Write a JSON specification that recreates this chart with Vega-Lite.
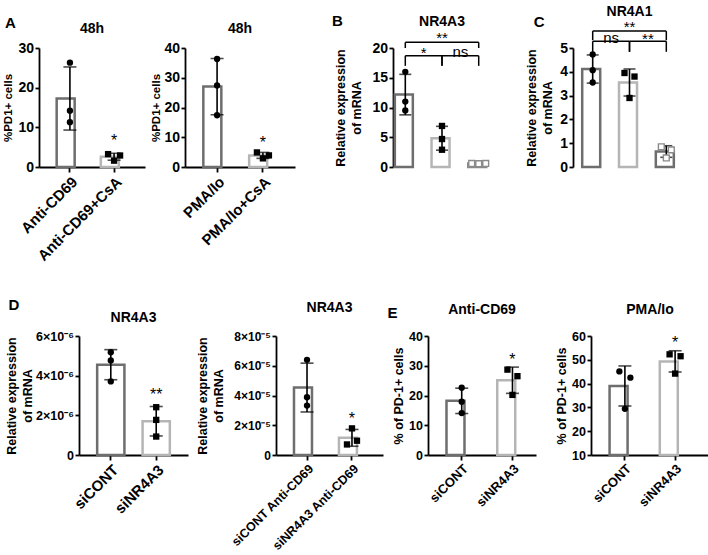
{
"$schema": "https://vega.github.io/schema/vega-lite/v6.json",
"background": "white",
"padding": {"left": 2, "top": 5, "right": 0, "bottom": 0},
"bounds": "flush",
"spacing": 288,
"resolve": {"scale": {"stroke": "independent", "shape": "independent", "xOffset": "independent"}},
"vconcat": [
 {"bounds": "flush", "spacing": 354,
  "resolve": {"scale": {"stroke": "independent", "shape": "independent", "xOffset": "independent"}},
  "hconcat": [
  {"title": {"text": "A", "anchor": "start", "frame": "bounds", "fontSize": 15, "baseline": "alphabetic", "offset": 0, "dx": 2, "dy": 21},
   "bounds": "flush", "spacing": 40,
   "resolve": {"scale": {"stroke": "independent", "shape": "independent", "xOffset": "independent"}},
   "hconcat": [
    {"width": 106, "height": 119, "title": {"text": "48h", "offset": 5},
     "data": {"values": [
      {"group": "Anti-CD69", "rep": 1, "value": 26.3}, {"group": "Anti-CD69", "rep": 2, "value": 14.2}, {"group": "Anti-CD69", "rep": 3, "value": 11.3},
      {"group": "Anti-CD69+CsA", "rep": 1, "value": 3.25}, {"group": "Anti-CD69+CsA", "rep": 2, "value": 2.9}, {"group": "Anti-CD69+CsA", "rep": 3, "value": 1.6}]},
     "encoding": {
      "x": {"field": "group", "type": "nominal", "title": null, "scale": {"domain": ["Anti-CD69", "Anti-CD69+CsA"], "paddingInner": 0.4, "paddingOuter": 0.4}},
      "y": {"field": "value", "type": "quantitative", "title": "%PD1+ cells", "scale": {"domain": [0, 30], "nice": false}, "axis": {"values": [0, 10, 20, 30], "titleFontSize": 11.5, "titlePadding": 4}}},
     "layer": [
      {"transform": [{"aggregate": [{"op": "mean", "field": "value", "as": "value"}], "groupby": ["group"]}],
       "mark": {"type": "bar", "fill": "white", "strokeWidth": 2.5},
       "encoding": {"stroke": {"field": "group", "type": "nominal", "scale": {"domain": ["Anti-CD69", "Anti-CD69+CsA"], "range": ["#6e6e6e", "#b5b5b5"]}, "legend": null}}},
      {"mark": {"type": "errorbar", "extent": "stdev", "ticks": true, "size": 13, "thickness": 1.6, "color": "black"}, "encoding": {}},
      {"transform": [{"filter": {"field": "group", "oneOf": ["Anti-CD69"]}}],
       "mark": {"type": "point", "filled": true, "color": "black", "size": 40, "opacity": 1},
       "encoding": {"shape": {"field": "group", "type": "nominal", "scale": {"domain": ["Anti-CD69", "Anti-CD69+CsA"], "range": ["circle", "square"]}, "legend": null}}},
      {"transform": [{"filter": {"field": "group", "oneOf": ["Anti-CD69+CsA"]}}],
       "mark": {"type": "point", "filled": true, "color": "black", "size": 40, "opacity": 1},
       "encoding": {"shape": {"field": "group", "type": "nominal", "scale": {"domain": ["Anti-CD69", "Anti-CD69+CsA"], "range": ["circle", "square"]}, "legend": null},
        "xOffset": {"field": "rep", "type": "nominal", "scale": {"type": "point", "domain": [1, 3, 2], "range": [7.25, 19.25], "padding": 0}}}},
      {"data": {"values": [{"group": "Anti-CD69+CsA", "value": 7.25, "label": "*"}]},
       "mark": {"type": "text", "fontSize": 16, "baseline": "middle", "dy": 3, "color": "black"},
       "encoding": {"text": {"field": "label", "type": "nominal"}}}
     ]},
    {"width": 110, "height": 119, "title": {"text": "48h", "offset": 5},
     "data": {"values": [
      {"group": "PMA/Io", "rep": 1, "value": 36.3}, {"group": "PMA/Io", "rep": 2, "value": 27.4}, {"group": "PMA/Io", "rep": 3, "value": 17.4},
      {"group": "PMA/Io+CsA", "rep": 1, "value": 4.9}, {"group": "PMA/Io+CsA", "rep": 2, "value": 3.9}, {"group": "PMA/Io+CsA", "rep": 3, "value": 2.9}]},
     "encoding": {
      "x": {"field": "group", "type": "nominal", "title": null, "scale": {"domain": ["PMA/Io", "PMA/Io+CsA"], "paddingInner": 0.4, "paddingOuter": 0.4}},
      "y": {"field": "value", "type": "quantitative", "title": "%PD1+ cells", "scale": {"domain": [0, 40], "nice": false}, "axis": {"values": [0, 10, 20, 30, 40], "titleFontSize": 11.5, "titlePadding": 2}}},
     "layer": [
      {"transform": [{"aggregate": [{"op": "mean", "field": "value", "as": "value"}], "groupby": ["group"]}],
       "mark": {"type": "bar", "fill": "white", "strokeWidth": 2.5},
       "encoding": {"stroke": {"field": "group", "type": "nominal", "scale": {"domain": ["PMA/Io", "PMA/Io+CsA"], "range": ["#6e6e6e", "#b5b5b5"]}, "legend": null}}},
      {"mark": {"type": "errorbar", "extent": "stdev", "ticks": true, "size": 13, "thickness": 1.6, "color": "black"}, "encoding": {}},
      {"transform": [{"filter": {"field": "group", "oneOf": ["PMA/Io"]}}],
       "mark": {"type": "point", "filled": true, "color": "black", "size": 40, "opacity": 1},
       "encoding": {"shape": {"field": "group", "type": "nominal", "scale": {"domain": ["PMA/Io", "PMA/Io+CsA"], "range": ["circle", "square"]}, "legend": null}}},
      {"transform": [{"filter": {"field": "group", "oneOf": ["PMA/Io+CsA"]}}],
       "mark": {"type": "point", "filled": true, "color": "black", "size": 40, "opacity": 1},
       "encoding": {"shape": {"field": "group", "type": "nominal", "scale": {"domain": ["PMA/Io", "PMA/Io+CsA"], "range": ["circle", "square"]}, "legend": null},
        "xOffset": {"field": "rep", "type": "nominal", "scale": {"type": "point", "domain": [1, 3, 2], "range": [7.75, 19.75], "padding": 0}}}},
      {"data": {"values": [{"group": "PMA/Io+CsA", "value": 9.1, "label": "*"}]},
       "mark": {"type": "text", "fontSize": 16, "baseline": "middle", "dy": 3, "color": "black"},
       "encoding": {"text": {"field": "label", "type": "nominal"}}}
     ]}
   ]},
  {"bounds": "flush", "spacing": 180,
   "resolve": {"scale": {"stroke": "independent", "shape": "independent", "xOffset": "independent"}},
   "hconcat": [
   {"title": {"text": "B", "anchor": "start", "frame": "bounds", "fontSize": 15, "baseline": "alphabetic", "offset": 0, "dx": -3, "dy": 25.5},
    "resolve": {"scale": {"stroke": "independent", "shape": "independent", "xOffset": "independent"}},
    "hconcat": [
     {"width": 98, "height": 119, "title": {"text": "NR4A3", "offset": 2},
      "data": {"values": [
       {"group": "Anti-CD69", "rep": 1, "value": 16.0}, {"group": "Anti-CD69", "rep": 2, "value": 11.0}, {"group": "Anti-CD69", "rep": 3, "value": 9.5},
       {"group": "Anti-CD69+CsA", "rep": 1, "value": 6.9}, {"group": "Anti-CD69+CsA", "rep": 2, "value": 4.7}, {"group": "Anti-CD69+CsA", "rep": 3, "value": 2.9},
       {"group": "CsA", "rep": 1, "value": 0.6}, {"group": "CsA", "rep": 2, "value": 0.6}, {"group": "CsA", "rep": 3, "value": 0.55}]},
      "encoding": {
       "x": {"field": "group", "type": "nominal", "title": null, "scale": {"domain": ["Anti-CD69", "Anti-CD69+CsA", "CsA"], "paddingInner": 0.43, "paddingOuter": 0.05}},
       "y": {"field": "value", "type": "quantitative", "title": ["Relative expression", "of mRNA"], "scale": {"domain": [0, 20], "nice": false}, "axis": {"values": [0, 5, 10, 15, 20], "titlePadding": 8}}},
      "layer": [
       {"transform": [{"aggregate": [{"op": "mean", "field": "value", "as": "value"}], "groupby": ["group"]}],
        "mark": {"type": "bar", "fill": "white", "strokeWidth": 2.5},
        "encoding": {"stroke": {"field": "group", "type": "nominal", "scale": {"domain": ["Anti-CD69", "Anti-CD69+CsA", "CsA"], "range": ["#6e6e6e", "#b5b5b5", "#8a8a8a"]}, "legend": null}}},
       {"mark": {"type": "errorbar", "extent": "stdev", "ticks": true, "size": 12, "thickness": 1.6, "color": "black"}, "encoding": {}},
       {"transform": [{"filter": {"field": "group", "oneOf": ["Anti-CD69", "Anti-CD69+CsA"]}}],
        "mark": {"type": "point", "filled": true, "color": "black", "size": 40, "opacity": 1},
        "encoding": {"shape": {"field": "group", "type": "nominal", "scale": {"domain": ["Anti-CD69", "Anti-CD69+CsA", "CsA"], "range": ["circle", "square", "square"]}, "legend": null}}},
       {"transform": [{"filter": {"field": "group", "oneOf": ["CsA"]}}],
        "mark": {"type": "point", "shape": "square", "filled": false, "fill": "white", "stroke": "#8a8a8a", "strokeWidth": 1.4, "size": 34, "opacity": 1},
        "encoding": {"xOffset": {"field": "rep", "type": "nominal", "scale": {"type": "point", "domain": [1, 3, 2], "range": [3.46, 17.46], "padding": 0}}}},
       {"data": {"values": [
         {"group": "Anti-CD69", "to": "CsA", "value": 20.95, "low": 20.0},
         {"group": "Anti-CD69", "to": "Anti-CD69+CsA", "value": 18.7, "low": 17.0},
         {"group": "Anti-CD69+CsA", "to": "CsA", "value": 18.7, "low": 17.0}]},
        "layer": [
         {"mark": {"type": "rule", "color": "black", "strokeWidth": 1.5}, "encoding": {"x2": {"field": "to"}}},
         {"mark": {"type": "rule", "color": "black", "strokeWidth": 1.5}, "encoding": {"y2": {"field": "low"}}},
         {"mark": {"type": "rule", "color": "black", "strokeWidth": 1.5}, "encoding": {"x": {"field": "to", "type": "nominal", "title": null, "scale": {"domain": ["Anti-CD69", "Anti-CD69+CsA", "CsA"], "paddingInner": 0.43, "paddingOuter": 0.05}, "axis": null}, "y2": {"field": "low"}}}
        ]},
       {"data": {"values": [
         {"group": "Anti-CD69", "value": 21.96, "label": "**", "span": 2},
         {"group": "Anti-CD69", "value": 19.43, "label": "*", "span": 1},
         {"group": "Anti-CD69+CsA", "value": 19.7, "label": "ns", "span": 1}]},
        "layer": [
         {"transform": [{"filter": "datum.span == 1"}], "mark": {"type": "text", "fontSize": 15, "baseline": "middle", "dy": 2, "dx": 18.35, "color": "black"}, "encoding": {"text": {"field": "label", "type": "nominal"}}},
         {"transform": [{"filter": "datum.span == 2"}], "mark": {"type": "text", "fontSize": 15, "baseline": "middle", "dy": 2, "dx": 36.7, "color": "black"}, "encoding": {"text": {"field": "label", "type": "nominal"}}}
        ]}
      ]}
    ]},
   {"title": {"text": "C", "anchor": "start", "frame": "bounds", "fontSize": 15, "baseline": "alphabetic", "offset": 0, "dx": 8, "dy": 36.5},
    "resolve": {"scale": {"stroke": "independent", "shape": "independent", "xOffset": "independent"}},
    "hconcat": [
     {"width": 113, "height": 119, "title": {"text": "NR4A1", "offset": 1},
      "data": {"values": [
       {"group": "Anti-CD69", "rep": 1, "value": 4.73}, {"group": "Anti-CD69", "rep": 2, "value": 4.07}, {"group": "Anti-CD69", "rep": 3, "value": 3.55},
       {"group": "Anti-CD69+CsA", "rep": 1, "value": 3.95}, {"group": "Anti-CD69+CsA", "rep": 2, "value": 3.8}, {"group": "Anti-CD69+CsA", "rep": 3, "value": 2.9},
       {"group": "CsA", "rep": 1, "value": 0.85}, {"group": "CsA", "rep": 2, "value": 0.72}, {"group": "CsA", "rep": 3, "value": 0.38}]},
      "encoding": {
       "x": {"field": "group", "type": "nominal", "title": null, "scale": {"domain": ["Anti-CD69", "Anti-CD69+CsA", "CsA"], "paddingInner": 0.43, "paddingOuter": 0.25}},
       "y": {"field": "value", "type": "quantitative", "title": ["Relative expression", "of mRNA"], "scale": {"domain": [0, 5], "nice": false}, "axis": {"values": [0, 1, 2, 3, 4, 5], "titlePadding": 5}}},
      "layer": [
       {"transform": [{"aggregate": [{"op": "mean", "field": "value", "as": "value"}], "groupby": ["group"]}],
        "mark": {"type": "bar", "fill": "white", "strokeWidth": 2.5},
        "encoding": {"stroke": {"field": "group", "type": "nominal", "scale": {"domain": ["Anti-CD69", "Anti-CD69+CsA", "CsA"], "range": ["#6e6e6e", "#b5b5b5", "#6e6e6e"]}, "legend": null}}},
       {"mark": {"type": "errorbar", "extent": "stdev", "ticks": true, "size": 12, "thickness": 1.6, "color": "black"}, "encoding": {}},
       {"transform": [{"filter": {"field": "group", "oneOf": ["Anti-CD69"]}}],
        "mark": {"type": "point", "filled": true, "color": "black", "size": 40, "opacity": 1},
        "encoding": {"shape": {"field": "group", "type": "nominal", "scale": {"domain": ["Anti-CD69", "Anti-CD69+CsA", "CsA"], "range": ["circle", "square", "square"]}, "legend": null}}},
       {"transform": [{"filter": {"field": "group", "oneOf": ["Anti-CD69+CsA"]}}],
        "mark": {"type": "point", "filled": true, "color": "black", "size": 40, "opacity": 1},
        "encoding": {"shape": {"field": "group", "type": "nominal", "scale": {"domain": ["Anti-CD69", "Anti-CD69+CsA", "CsA"], "range": ["circle", "square", "square"]}, "legend": null},
         "xOffset": {"field": "rep", "type": "nominal", "scale": {"type": "point", "domain": [1, 3, 2], "range": [5.49, 15.49], "padding": 0}}}},
       {"transform": [{"filter": {"field": "group", "oneOf": ["CsA"]}}],
        "mark": {"type": "point", "shape": "square", "filled": false, "fill": "white", "stroke": "#8a8a8a", "strokeWidth": 1.4, "size": 34, "opacity": 1},
        "encoding": {"xOffset": {"field": "rep", "type": "nominal", "scale": {"type": "point", "domain": [1, 3, 2], "range": [5.49, 15.49], "padding": 0}}}},
       {"data": {"values": [
         {"group": "Anti-CD69", "to": "CsA", "value": 5.71, "low": 5.33},
         {"group": "Anti-CD69", "to": "Anti-CD69+CsA", "value": 5.28, "low": 4.84},
         {"group": "Anti-CD69+CsA", "to": "CsA", "value": 5.28, "low": 4.84}]},
        "layer": [
         {"mark": {"type": "rule", "color": "black", "strokeWidth": 1.5}, "encoding": {"x2": {"field": "to"}}},
         {"mark": {"type": "rule", "color": "black", "strokeWidth": 1.5}, "encoding": {"y2": {"field": "low"}}},
         {"mark": {"type": "rule", "color": "black", "strokeWidth": 1.5}, "encoding": {"x": {"field": "to", "type": "nominal", "title": null, "scale": {"domain": ["Anti-CD69", "Anti-CD69+CsA", "CsA"], "paddingInner": 0.43, "paddingOuter": 0.25}, "axis": null}, "y2": {"field": "low"}}}
        ]},
       {"data": {"values": [
         {"group": "Anti-CD69", "value": 5.96, "label": "**", "span": 2},
         {"group": "Anti-CD69", "value": 5.5, "label": "ns", "span": 1},
         {"group": "Anti-CD69+CsA", "value": 5.47, "label": "**", "span": 1}]},
        "layer": [
         {"transform": [{"filter": "datum.span == 1"}], "mark": {"type": "text", "fontSize": 15, "baseline": "middle", "dy": 2, "dx": 18.4, "color": "black"}, "encoding": {"text": {"field": "label", "type": "nominal"}}},
         {"transform": [{"filter": "datum.span == 2"}], "mark": {"type": "text", "fontSize": 15, "baseline": "middle", "dy": 2, "dx": 36.8, "color": "black"}, "encoding": {"text": {"field": "label", "type": "nominal"}}}
        ]}
      ]}
    ]}
  ]}
 ]},
 {"bounds": "flush", "spacing": 39,
  "resolve": {"scale": {"stroke": "independent", "shape": "independent", "xOffset": "independent"}},
  "hconcat": [
  {"width": 1, "height": 1, "data": {"values": []}, "mark": {"type": "point", "opacity": 0}, "encoding": {}},
  {"bounds": "flush", "spacing": 349,
   "resolve": {"scale": {"stroke": "independent", "shape": "independent", "xOffset": "independent"}},
   "hconcat": [
   {"title": {"text": "D", "anchor": "start", "frame": "bounds", "fontSize": 15, "baseline": "alphabetic", "offset": 0, "dx": 3, "dy": 24},
    "bounds": "flush", "spacing": 88,
    "resolve": {"scale": {"stroke": "independent", "shape": "independent", "xOffset": "independent"}},
    "hconcat": [
     {"width": 109, "height": 119, "title": {"text": "NR4A3", "offset": 5},
      "data": {"values": [
       {"group": "siCONT", "rep": 1, "value": 5.18e-6}, {"group": "siCONT", "rep": 2, "value": 4.77e-6}, {"group": "siCONT", "rep": 3, "value": 3.71e-6},
       {"group": "siNR4A3", "rep": 1, "value": 2.41e-6}, {"group": "siNR4A3", "rep": 2, "value": 1.77e-6}, {"group": "siNR4A3", "rep": 3, "value": 0.93e-6}]},
      "encoding": {
       "x": {"field": "group", "type": "nominal", "title": null, "scale": {"domain": ["siCONT", "siNR4A3"], "paddingInner": 0.4, "paddingOuter": 0.4}},
       "y": {"field": "value", "type": "quantitative", "title": ["Relative expression", "of mRNA"], "scale": {"domain": [0, 6e-6], "nice": false}, "axis": {"values": [0, 2e-6, 4e-6, 6e-6], "labelFontSize": 12.5, "labelExpr": "datum.value == 0 ? '0' : format(datum.value * 1e6, '.0f') + '×10⁻⁶'", "titlePadding": 1}}},
      "layer": [
       {"transform": [{"aggregate": [{"op": "mean", "field": "value", "as": "value"}], "groupby": ["group"]}],
        "mark": {"type": "bar", "fill": "white", "strokeWidth": 2.5},
        "encoding": {"stroke": {"field": "group", "type": "nominal", "scale": {"domain": ["siCONT", "siNR4A3"], "range": ["#6e6e6e", "#b5b5b5"]}, "legend": null}}},
       {"mark": {"type": "errorbar", "extent": "stdev", "ticks": true, "size": 13, "thickness": 1.6, "color": "black"}, "encoding": {}},
       {"mark": {"type": "point", "filled": true, "color": "black", "size": 40, "opacity": 1},
        "encoding": {"shape": {"field": "group", "type": "nominal", "scale": {"domain": ["siCONT", "siNR4A3"], "range": ["circle", "square"]}, "legend": null}}},
       {"data": {"values": [{"group": "siNR4A3", "value": 3.2e-6, "label": "**"}]},
        "mark": {"type": "text", "fontSize": 16, "baseline": "middle", "dy": 3, "color": "black"},
        "encoding": {"text": {"field": "label", "type": "nominal"}}}
      ]},
     {"width": 107, "height": 119, "title": {"text": "NR4A3", "offset": 15},
      "data": {"values": [
       {"group": "siCONT Anti-CD69", "rep": 1, "value": 6.4e-5}, {"group": "siCONT Anti-CD69", "rep": 2, "value": 3.88e-5}, {"group": "siCONT Anti-CD69", "rep": 3, "value": 3.32e-5},
       {"group": "siNR4A3 Anti-CD69", "rep": 1, "value": 0.71e-5}, {"group": "siNR4A3 Anti-CD69", "rep": 2, "value": 0.96e-5}, {"group": "siNR4A3 Anti-CD69", "rep": 3, "value": 1.79e-5}]},
      "encoding": {
       "x": {"field": "group", "type": "nominal", "title": null, "scale": {"domain": ["siCONT Anti-CD69", "siNR4A3 Anti-CD69"], "paddingInner": 0.42, "paddingOuter": 0.4}, "axis": {"labelFontSize": 12.5}},
       "y": {"field": "value", "type": "quantitative", "title": ["Relative expression", "of mRNA"], "scale": {"domain": [0, 8e-5], "nice": false}, "axis": {"values": [0, 2e-5, 4e-5, 6e-5, 8e-5], "labelFontSize": 12, "labelExpr": "datum.value == 0 ? '0' : format(datum.value * 1e5, '.0f') + '×10⁻⁵'", "titlePadding": 8}}},
      "layer": [
       {"transform": [{"aggregate": [{"op": "mean", "field": "value", "as": "value"}], "groupby": ["group"]}],
        "mark": {"type": "bar", "fill": "white", "strokeWidth": 2.5},
        "encoding": {"stroke": {"field": "group", "type": "nominal", "scale": {"domain": ["siCONT Anti-CD69", "siNR4A3 Anti-CD69"], "range": ["#6e6e6e", "#b5b5b5"]}, "legend": null}}},
       {"mark": {"type": "errorbar", "extent": "stdev", "ticks": true, "size": 13, "thickness": 1.6, "color": "black"}, "encoding": {}},
       {"transform": [{"filter": {"field": "group", "oneOf": ["siCONT Anti-CD69"]}}],
        "mark": {"type": "point", "filled": true, "color": "black", "size": 40, "opacity": 1},
        "encoding": {"shape": {"field": "group", "type": "nominal", "scale": {"domain": ["siCONT Anti-CD69", "siNR4A3 Anti-CD69"], "range": ["circle", "square"]}, "legend": null}}},
       {"transform": [{"filter": {"field": "group", "oneOf": ["siNR4A3 Anti-CD69"]}}],
        "mark": {"type": "point", "filled": true, "color": "black", "size": 40, "opacity": 1},
        "encoding": {"shape": {"field": "group", "type": "nominal", "scale": {"domain": ["siCONT Anti-CD69", "siNR4A3 Anti-CD69"], "range": ["circle", "square"]}, "legend": null},
         "xOffset": {"field": "rep", "type": "nominal", "scale": {"type": "point", "domain": [1, 3, 2], "range": [8.04, 18.04], "padding": 0}}}},
       {"data": {"values": [{"group": "siNR4A3 Anti-CD69", "value": 2.6e-5, "label": "*"}]},
        "mark": {"type": "text", "fontSize": 16, "baseline": "middle", "dy": 3, "color": "black"},
        "encoding": {"text": {"field": "label", "type": "nominal"}}}
      ]}
    ]},
   {"title": {"text": "E", "anchor": "start", "frame": "bounds", "fontSize": 15, "baseline": "alphabetic", "offset": 0, "dx": -5, "dy": 30},
    "bounds": "flush", "spacing": 55,
    "resolve": {"scale": {"stroke": "independent", "shape": "independent", "xOffset": "independent"}},
    "hconcat": [
     {"width": 108, "height": 119, "title": {"text": "Anti-CD69", "offset": 13},
      "data": {"values": [
       {"group": "siCONT", "rep": 1, "value": 22.6}, {"group": "siCONT", "rep": 2, "value": 17.9}, {"group": "siCONT", "rep": 3, "value": 14.1},
       {"group": "siNR4A3", "rep": 1, "value": 28.7}, {"group": "siNR4A3", "rep": 2, "value": 26.5}, {"group": "siNR4A3", "rep": 3, "value": 20.2}]},
      "encoding": {
       "x": {"field": "group", "type": "nominal", "title": null, "scale": {"domain": ["siCONT", "siNR4A3"], "paddingInner": 0.4, "paddingOuter": 0.264, "align": 0.69}, "axis": {"labelFontSize": 13}},
       "y": {"field": "value", "type": "quantitative", "title": "% of PD-1+ cells", "scale": {"domain": [0, 40], "nice": false}, "axis": {"values": [0, 10, 20, 30, 40], "labelFontSize": 12.5, "titlePadding": 3}}},
      "layer": [
       {"transform": [{"aggregate": [{"op": "mean", "field": "value", "as": "value"}], "groupby": ["group"]}],
        "mark": {"type": "bar", "fill": "white", "strokeWidth": 2.5},
        "encoding": {"stroke": {"field": "group", "type": "nominal", "scale": {"domain": ["siCONT", "siNR4A3"], "range": ["#6e6e6e", "#b5b5b5"]}, "legend": null}}},
       {"mark": {"type": "errorbar", "extent": "stdev", "ticks": true, "size": 13, "thickness": 1.6, "color": "black"}, "encoding": {}},
       {"transform": [{"filter": {"field": "group", "oneOf": ["siCONT"]}}],
        "mark": {"type": "point", "filled": true, "color": "black", "size": 40, "opacity": 1},
        "encoding": {"shape": {"field": "group", "type": "nominal", "scale": {"domain": ["siCONT", "siNR4A3"], "range": ["circle", "square"]}, "legend": null}}},
       {"transform": [{"filter": {"field": "group", "oneOf": ["siNR4A3"]}}],
        "mark": {"type": "point", "filled": true, "color": "black", "size": 40, "opacity": 1},
        "encoding": {"shape": {"field": "group", "type": "nominal", "scale": {"domain": ["siCONT", "siNR4A3"], "range": ["circle", "square"]}, "legend": null},
         "xOffset": {"field": "rep", "type": "nominal", "scale": {"type": "point", "domain": [1, 3, 2], "range": [10.2, 20.2], "padding": 0}}}},
       {"data": {"values": [{"group": "siNR4A3", "value": 32.9, "label": "*"}]},
        "mark": {"type": "text", "fontSize": 16, "baseline": "middle", "dy": 3, "color": "black"},
        "encoding": {"text": {"field": "label", "type": "nominal"}}}
      ]},
     {"width": 118, "height": 119, "title": {"text": "PMA/Io", "offset": 13},
      "data": {"values": [
       {"group": "siCONT", "rep": 1, "value": 45.1}, {"group": "siCONT", "rep": 2, "value": 42.5}, {"group": "siCONT", "rep": 3, "value": 29.4},
       {"group": "siNR4A3", "rep": 1, "value": 52.3}, {"group": "siNR4A3", "rep": 2, "value": 51.5}, {"group": "siNR4A3", "rep": 3, "value": 44.2}]},
      "encoding": {
       "x": {"field": "group", "type": "nominal", "title": null, "scale": {"domain": ["siCONT", "siNR4A3"], "paddingInner": 0.39, "paddingOuter": 0.37}, "axis": {"labelFontSize": 13}},
       "y": {"field": "value", "type": "quantitative", "title": "% of PD-1+ cells", "scale": {"domain": [10, 60], "nice": false, "zero": false}, "axis": {"values": [10, 20, 30, 40, 50, 60], "labelFontSize": 12.5, "titlePadding": 3}}},
      "layer": [
       {"transform": [{"aggregate": [{"op": "mean", "field": "value", "as": "value"}], "groupby": ["group"]}],
        "mark": {"type": "bar", "fill": "white", "strokeWidth": 2.5},
        "encoding": {"y2": {"datum": 10}, "stroke": {"field": "group", "type": "nominal", "scale": {"domain": ["siCONT", "siNR4A3"], "range": ["#6e6e6e", "#b5b5b5"]}, "legend": null}}},
       {"mark": {"type": "errorbar", "extent": "stdev", "ticks": true, "size": 13, "thickness": 1.6, "color": "black"}, "encoding": {}},
       {"mark": {"type": "point", "filled": true, "color": "black", "size": 40, "opacity": 1},
        "encoding": {"shape": {"field": "group", "type": "nominal", "scale": {"domain": ["siCONT", "siNR4A3"], "range": ["circle", "square"]}, "legend": null},
         "xOffset": {"field": "rep", "type": "nominal", "scale": {"type": "point", "domain": [1, 3, 2], "range": [9.8, 20.8], "padding": 0}}}},
       {"data": {"values": [{"group": "siNR4A3", "value": 58.2, "label": "*"}]},
        "mark": {"type": "text", "fontSize": 16, "baseline": "middle", "dy": 3, "color": "black"},
        "encoding": {"text": {"field": "label", "type": "nominal"}}}
      ]}
    ]}
  ]}
 ]}
],
"config": {
 "font": "Liberation Sans",
 "view": {"stroke": null},
 "axis": {"grid": false, "domainColor": "black", "domainWidth": 1.8, "tickColor": "black", "tickWidth": 1.8, "tickSize": 4, "labelColor": "black", "labelFont": "Liberation Sans", "labelFontWeight": "bold", "labelFontSize": 14, "labelPadding": 1.5, "titleColor": "black", "titleFont": "Liberation Sans", "titleFontWeight": "bold", "titleFontSize": 12.5, "titleLineHeight": 16, "titlePadding": 4},
 "axisX": {"labelAngle": -45, "labelAlign": "right", "labelBaseline": "top", "labelFontSize": 15, "tickSize": 5, "labelPadding": 2},
 "title": {"font": "Liberation Sans", "fontSize": 14, "fontWeight": "bold", "color": "black", "frame": "group", "anchor": "middle"}
}
}
